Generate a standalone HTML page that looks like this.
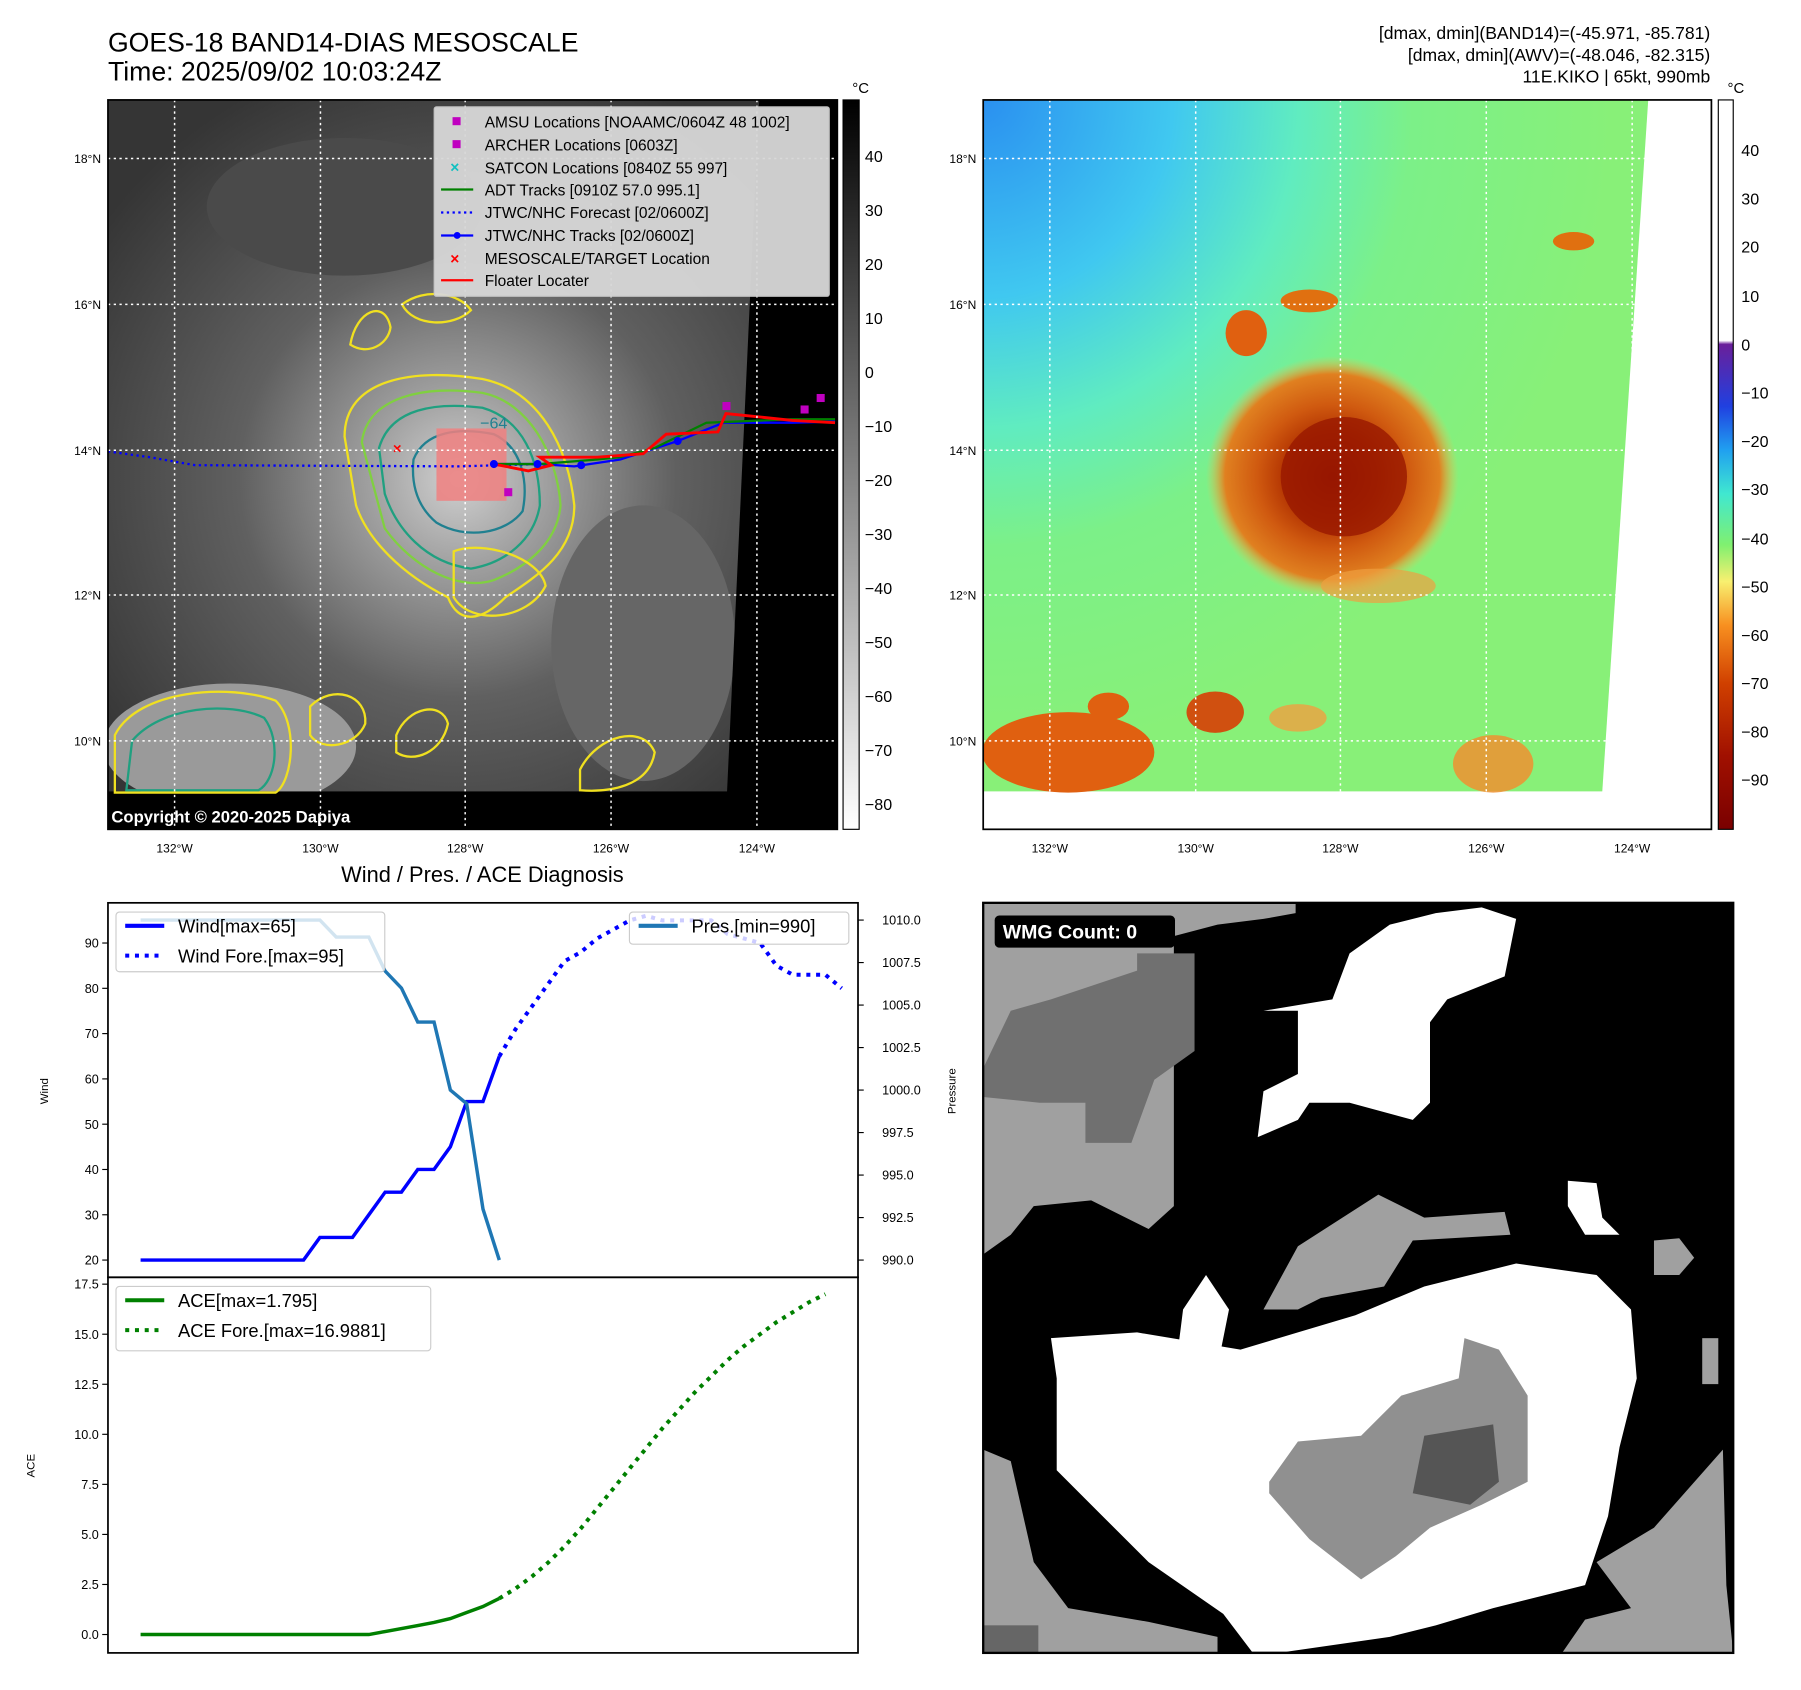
<!DOCTYPE html>
<html><head><meta charset="utf-8">
<style>
html,body{margin:0;padding:0;background:#fff;}
svg{display:block;font-family:"Liberation Sans","DejaVu Sans",sans-serif;}
</style></head>
<body>
<svg id="fig" width="1801" height="1690" viewBox="0 0 1568 1471.3" preserveAspectRatio="none" xmlns="http://www.w3.org/2000/svg">
<defs>
  <linearGradient id="cb1" x1="0" y1="0" x2="0" y2="1">
    <stop offset="0" stop-color="#000"/><stop offset="1" stop-color="#fff"/>
  </linearGradient>
  <linearGradient id="cb2" x1="0" y1="0" x2="0" y2="1">
    <stop offset="0" stop-color="#fff"/><stop offset="0.33" stop-color="#fff"/>
    <stop offset="0.335" stop-color="#6a1f9a"/>
    <stop offset="0.42" stop-color="#2040e0"/>
    <stop offset="0.48" stop-color="#20a0f0"/>
    <stop offset="0.54" stop-color="#40e8d0"/>
    <stop offset="0.61" stop-color="#80f070"/>
    <stop offset="0.66" stop-color="#f8f070"/>
    <stop offset="0.72" stop-color="#f89020"/>
    <stop offset="0.80" stop-color="#d04000"/>
    <stop offset="0.90" stop-color="#a01000"/>
    <stop offset="1" stop-color="#7a0000"/>
  </linearGradient>
  <radialGradient id="sat1" cx="0.48" cy="0.52" r="0.6">
    <stop offset="0" stop-color="#d0d0d0"/><stop offset="0.2" stop-color="#a0a0a0"/>
    <stop offset="0.5" stop-color="#606060"/><stop offset="1" stop-color="#353535"/>
  </radialGradient>
  <radialGradient id="bg2" cx="0" cy="0" r="0.95">
    <stop offset="0" stop-color="#2a90f0"/><stop offset="0.3" stop-color="#40c8f0"/>
    <stop offset="0.5" stop-color="#60ecc0"/><stop offset="0.68" stop-color="#7cf088"/>
    <stop offset="1" stop-color="#88f078"/>
  </radialGradient>
  <radialGradient id="storm" cx="0.5" cy="0.5" r="0.5">
    <stop offset="0" stop-color="#901000"/><stop offset="0.35" stop-color="#b03000"/>
    <stop offset="0.6" stop-color="#d05a10"/><stop offset="0.85" stop-color="#e08020"/>
    <stop offset="1" stop-color="#f0c050" stop-opacity="0"/>
  </radialGradient>
  <clipPath id="clipL"><rect x="94" y="87" width="635" height="635"/></clipPath>
  <clipPath id="clipR"><rect x="856" y="87" width="634" height="635"/></clipPath>
</defs>

<text x="94" y="45" font-size="23.2">GOES-18 BAND14-DIAS MESOSCALE</text>
<text x="94" y="70" font-size="23.2">Time: 2025/09/02 10:03:24Z</text>
<g font-size="15.3" text-anchor="end">
<text x="1489" y="34">[dmax, dmin](BAND14)=(-45.971, -85.781)</text>
<text x="1489" y="53">[dmax, dmin](AWV)=(-48.046, -82.315)</text>
<text x="1489" y="72">11E.KIKO | 65kt, 990mb</text>
</g>

<g clip-path="url(#clipL)">
  <rect x="94" y="87" width="635" height="635" fill="url(#sat1)"/>
  <ellipse cx="200" cy="650" rx="110" ry="55" fill="#9a9a9a"/>
  <ellipse cx="300" cy="180" rx="120" ry="60" fill="#4a4a4a"/>
  <ellipse cx="560" cy="560" rx="80" ry="120" fill="#666"/>
  <polygon points="661,87 729,87 729,722 633,722 633,689" fill="#000"/>
  <rect x="94" y="689" width="540" height="33" fill="#000"/>
  <g fill="none" stroke-width="2">
    <path d="M300,380 C300,330 360,320 420,330 C470,340 495,390 500,440 C500,480 470,500 440,520 C420,540 400,545 390,520 C350,500 320,470 310,440 Z" stroke="#f0e020"/>
    <path d="M315,385 C320,345 370,335 420,342 C460,350 485,395 488,440 C485,475 455,495 430,505 C400,515 360,495 335,460 Z" stroke="#80d040"/>
    <path d="M330,390 C340,355 380,350 420,355 C455,365 470,400 470,440 C465,470 440,490 410,495 C370,490 345,460 335,430 Z" stroke="#20a080"/>
    <path d="M360,400 C370,375 400,372 430,378 C455,390 460,420 455,445 C440,465 405,470 380,455 C362,440 358,420 360,400 Z" stroke="#208090"/>
    <path d="M305,300 C310,270 335,260 340,285 C338,300 320,310 305,300 Z" stroke="#f0e020"/>
    <path d="M350,265 C370,250 400,255 410,270 C395,285 360,285 350,265 Z" stroke="#f0e020"/>
    <path d="M100,640 C120,600 200,595 240,610 C260,630 255,680 240,690 L100,690 Z" stroke="#f0e020"/>
    <path d="M115,645 C140,615 200,610 230,625 C245,645 240,680 225,688 L110,688 Z" stroke="#20a080"/>
    <path d="M270,615 C290,595 320,605 318,630 C310,650 280,655 270,640 Z" stroke="#f0e020"/>
    <path d="M345,640 C355,615 385,610 390,630 C385,655 360,665 345,655 Z" stroke="#f0e020"/>
    <path d="M505,670 C520,640 560,630 570,655 C565,685 530,690 505,688 Z" stroke="#f0e020"/>
    <path d="M395,480 C420,470 470,485 475,510 C460,540 410,545 395,520 Z" stroke="#f0e020"/>
  </g>
  <text x="418" y="373" font-size="14" fill="#208090">−64</text>
  <rect x="380" y="373" width="61" height="63" fill="#f08080" opacity="0.85"/>
  <polyline points="94,393 130,398 170,405 400,406 470,404" fill="none" stroke="#0000ff" stroke-width="2" stroke-dasharray="2,3"/>
  <polyline points="430,404 470,404 500,406 540,400 590,384 630,368 690,368 727,367" fill="none" stroke="#0000ff" stroke-width="2"/>
  <polyline points="430,404 470,404 520,400 540,398 570,390 580,385 615,368 690,365 727,365" fill="none" stroke="#008000" stroke-width="2"/>
  <polyline points="430,404 460,410 480,405 470,398 520,398 560,395 580,378 625,376 632,360 690,366 727,368" fill="none" stroke="#ff0000" stroke-width="2.5"/>
  <g fill="#0000ff"><circle cx="430" cy="404" r="3.5"/><circle cx="468" cy="404" r="3.5"/><circle cx="506" cy="405" r="3.5"/><circle cx="590" cy="384" r="3.5"/></g>
  <g fill="#c000c0"><rect x="439" y="425" width="7" height="7"/><rect x="629" y="350" width="7" height="7"/><rect x="697" y="353" width="7" height="7"/><rect x="711" y="343" width="7" height="7"/></g>
  <text x="342" y="395" font-size="13" fill="#ff0000" font-weight="bold">×</text>
  <g stroke="#fff" stroke-width="1.3" stroke-dasharray="2,3">
    <line x1="152" y1="87" x2="152" y2="722"/><line x1="279" y1="87" x2="279" y2="722"/><line x1="405" y1="87" x2="405" y2="722"/><line x1="532" y1="87" x2="532" y2="722"/><line x1="659" y1="87" x2="659" y2="722"/>
    <line x1="94" y1="138" x2="729" y2="138"/><line x1="94" y1="265" x2="729" y2="265"/><line x1="94" y1="392" x2="729" y2="392"/><line x1="94" y1="518" x2="729" y2="518"/><line x1="94" y1="645" x2="729" y2="645"/>
  </g>
  <text x="97" y="716" font-size="14.5" font-weight="bold" fill="#fff">Copyright © 2020-2025 Dapiya</text>
</g>
<rect x="94" y="87" width="635" height="635" fill="none" stroke="#000" stroke-width="1.5"/>
<g font-size="13.5">
  <rect x="378" y="93" width="344" height="165" fill="#d8d8d8" stroke="#c8c8c8" opacity="0.95" rx="2"/>
  <rect x="394" y="102" width="7" height="7" fill="#c000c0"/><text x="422" y="111">AMSU Locations [NOAAMC/0604Z 48 1002]</text>
  <rect x="394" y="122" width="7" height="7" fill="#c000c0"/><text x="422" y="131">ARCHER Locations [0603Z]</text>
  <text x="392" y="150" fill="#10c0c0" font-weight="bold">×</text><text x="422" y="151">SATCON Locations [0840Z 55 997]</text>
  <line x1="384" y1="165" x2="412" y2="165" stroke="#008000" stroke-width="2"/><text x="422" y="170">ADT Tracks [0910Z 57.0 995.1]</text>
  <line x1="384" y1="185" x2="412" y2="185" stroke="#0000ff" stroke-width="2" stroke-dasharray="2,3"/><text x="422" y="190">JTWC/NHC Forecast [02/0600Z]</text>
  <line x1="384" y1="205" x2="412" y2="205" stroke="#0000ff" stroke-width="2"/><circle cx="398" cy="205" r="3" fill="#0000ff"/><text x="422" y="210">JTWC/NHC Tracks [02/0600Z]</text>
  <text x="392" y="230" fill="#ff0000" font-weight="bold">×</text><text x="422" y="230">MESOSCALE/TARGET Location</text>
  <line x1="384" y1="244" x2="412" y2="244" stroke="#ff0000" stroke-width="2"/><text x="422" y="249">Floater Locater</text>
</g>
<g font-size="10.5" text-anchor="middle">
  <text x="152" y="742">132°W</text><text x="279" y="742">130°W</text><text x="405" y="742">128°W</text><text x="532" y="742">126°W</text><text x="659" y="742">124°W</text>
</g>
<g font-size="10.5" text-anchor="end">
  <text x="88" y="142">18°N</text><text x="88" y="269">16°N</text><text x="88" y="396">14°N</text><text x="88" y="522">12°N</text><text x="88" y="649">10°N</text>
</g>
<rect x="734" y="87" width="14" height="635" fill="url(#cb1)" stroke="#000"/>
<text x="742" y="81" font-size="13">°C</text>
<g font-size="14">
  <text x="753" y="141">40</text><text x="753" y="188">30</text><text x="753" y="235">20</text><text x="753" y="282">10</text><text x="753" y="329">0</text>
  <text x="753" y="376">−10</text><text x="753" y="423">−20</text><text x="753" y="470">−30</text><text x="753" y="517">−40</text><text x="753" y="564">−50</text><text x="753" y="611">−60</text><text x="753" y="658">−70</text><text x="753" y="705">−80</text>
</g>

<g clip-path="url(#clipR)">
  <rect x="856" y="87" width="634" height="635" fill="#fff"/>
  <polygon points="856,87 1435,87 1395,689 856,689" fill="url(#bg2)"/>
  <ellipse cx="1160" cy="415" rx="110" ry="105" fill="url(#storm)"/>
  <ellipse cx="1170" cy="415" rx="55" ry="52" fill="#981800" opacity="0.8"/>
  <ellipse cx="1085" cy="290" rx="18" ry="20" fill="#e06010"/>
  <ellipse cx="1140" cy="262" rx="25" ry="10" fill="#e07010"/>
  <ellipse cx="1370" cy="210" rx="18" ry="8" fill="#e07010"/>
  <ellipse cx="930" cy="655" rx="75" ry="35" fill="#e06010"/>
  <ellipse cx="1058" cy="620" rx="25" ry="18" fill="#d05010"/>
  <ellipse cx="965" cy="615" rx="18" ry="12" fill="#e06010"/>
  <ellipse cx="1300" cy="665" rx="35" ry="25" fill="#f09030" opacity="0.85"/>
  <ellipse cx="1130" cy="625" rx="25" ry="12" fill="#f0a040" opacity="0.8"/>
  <ellipse cx="1200" cy="510" rx="50" ry="15" fill="#f0a040" opacity="0.7"/>
  <g stroke="#fff" stroke-width="1.3" stroke-dasharray="2,3">
    <line x1="914" y1="87" x2="914" y2="722"/><line x1="1041" y1="87" x2="1041" y2="722"/><line x1="1167" y1="87" x2="1167" y2="722"/><line x1="1294" y1="87" x2="1294" y2="722"/><line x1="1421" y1="87" x2="1421" y2="722"/>
    <line x1="856" y1="138" x2="1490" y2="138"/><line x1="856" y1="265" x2="1490" y2="265"/><line x1="856" y1="392" x2="1490" y2="392"/><line x1="856" y1="518" x2="1490" y2="518"/><line x1="856" y1="645" x2="1490" y2="645"/>
  </g>
</g>
<rect x="856" y="87" width="634" height="635" fill="none" stroke="#000" stroke-width="1.5"/>
<g font-size="10.5" text-anchor="middle">
  <text x="914" y="742">132°W</text><text x="1041" y="742">130°W</text><text x="1167" y="742">128°W</text><text x="1294" y="742">126°W</text><text x="1421" y="742">124°W</text>
</g>
<g font-size="10.5" text-anchor="end">
  <text x="850" y="142">18°N</text><text x="850" y="269">16°N</text><text x="850" y="396">14°N</text><text x="850" y="522">12°N</text><text x="850" y="649">10°N</text>
</g>
<rect x="1496" y="87" width="13" height="635" fill="url(#cb2)" stroke="#000"/>
<text x="1504" y="81" font-size="13">°C</text>
<g font-size="14">
  <text x="1516" y="136">40</text><text x="1516" y="178">30</text><text x="1516" y="220">20</text><text x="1516" y="263">10</text><text x="1516" y="305">0</text>
  <text x="1516" y="347">−10</text><text x="1516" y="389">−20</text><text x="1516" y="431">−30</text><text x="1516" y="474">−40</text><text x="1516" y="516">−50</text><text x="1516" y="558">−60</text><text x="1516" y="600">−70</text><text x="1516" y="642">−80</text><text x="1516" y="684">−90</text>
</g>

<g>
  <rect x="856" y="786" width="653" height="653" fill="#000"/>
  <polygon points="856,786 1128,786 1128,795 1100,800 1060,805 1022,815 1022,1050 1000,1070 950,1045 900,1050 880,1075 856,1092" fill="#a0a0a0"/>
  <polygon points="990,830 1040,830 1040,915 1005,940 985,995 945,995 945,960 905,960 856,955 856,930 880,880 915,870 990,845" fill="#707070"/>
  <polygon points="1290,790 1320,800 1310,850 1260,870 1245,890 1245,960 1230,975 1175,960 1140,960 1130,975 1095,990 1100,950 1130,935 1130,880 1100,880 1160,870 1175,830 1210,805 1250,795" fill="#fff"/>
  <polygon points="1130,1085 1200,1040 1240,1060 1310,1055 1315,1075 1230,1080 1205,1120 1150,1130 1130,1140 1100,1140" fill="#a0a0a0"/>
  <polygon points="1030,1140 1050,1110 1070,1140 1060,1190 1025,1180" fill="#fff"/>
  <polygon points="1365,1028 1390,1030 1395,1060 1410,1075 1380,1075 1365,1050" fill="#fff"/>
  <polygon points="915,1165 990,1160 1080,1175 1130,1160 1180,1145 1240,1120 1320,1100 1390,1110 1420,1140 1425,1200 1410,1260 1400,1320 1380,1380 1300,1400 1250,1415 1210,1425 1120,1438 1090,1438 1065,1405 1000,1360 960,1320 920,1280 920,1200" fill="#fff"/>
  <polygon points="1105,1290 1130,1255 1185,1250 1220,1215 1270,1200 1275,1165 1305,1175 1330,1215 1330,1290 1290,1310 1245,1330 1215,1355 1185,1375 1140,1340 1105,1300" fill="#909090"/>
  <polygon points="1240,1250 1300,1240 1305,1290 1280,1310 1230,1300" fill="#555"/>
  <polygon points="1390,1360 1440,1330 1500,1262 1503,1380 1509,1439 1360,1439 1380,1410 1420,1400" fill="#a0a0a0"/>
  <polygon points="856,1262 880,1272 900,1360 930,1400 1000,1412 1060,1425 1060,1439 856,1439" fill="#a0a0a0"/>
  <rect x="856" y="1415" width="48" height="24" fill="#666"/>
  <polygon points="1440,1080 1462,1078 1475,1095 1462,1110 1440,1110" fill="#a0a0a0"/>
  <rect x="1482" y="1165" width="14" height="40" fill="#a0a0a0"/>
  <rect x="866" y="797" width="157" height="28" rx="4" fill="#000"/>
  <text x="873" y="817" font-size="17" font-weight="bold" fill="#fff">WMG Count: 0</text>
  <rect x="856" y="786" width="653" height="653" fill="none" stroke="#000" stroke-width="2"/>
</g>

<text x="420" y="768" font-size="19" text-anchor="middle">Wind / Pres. / ACE Diagnosis</text>
<g id="charts"></g>
</svg>

<script>
const windPast = [20,20,20,20,20,20,20,20,20,20,20,25,25,25,30,35,35,40,40,45,55,55,65];
const windFore = [65,71,76,81,86,88,91,93,95,96,95,95,95,95,92,91,90,85,83,83,83,80];
const presPast = [1010,1010,1010,1010,1010,1010,1010,1010,1010,1010,1010,1010,1009,1009,1009,1007,1006,1004,1004,1000,999.2,993,990];
const acePast = [0,0,0,0,0,0,0,0,0,0,0,0,0,0,0,0.15,0.3,0.45,0.6,0.8,1.1,1.4,1.8];
const aceFore = [1.8,2.3,2.9,3.6,4.4,5.3,6.3,7.3,8.3,9.3,10.3,11.2,12.1,12.9,13.7,14.4,15.0,15.6,16.1,16.6,17.0];
const windTicks = [20,30,40,50,60,70,80,90];
const presTicks = [990.0,992.5,995.0,997.5,1000.0,1002.5,1005.0,1007.5,1010.0];
const aceTicks = [0.0,2.5,5.0,7.5,10.0,12.5,15.0,17.5];

const NS = "http://www.w3.org/2000/svg";
const root = document.getElementById('charts');
function xS(i){ return 94 + (i + 2) * (653/46); }
function yW(v){ return 1097 - (v - 20) * 3.943; }
function yP(p){ return 1097 - (p - 990) * 14.8; }
function yA(a){ return 1423 - a * 17.43; }
function mk(tag, attrs, parent){
  const e = document.createElementNS(NS, tag);
  for (const k in attrs) e.setAttribute(k, attrs[k]);
  (parent || root).appendChild(e);
  return e;
}
function pts(arr, off, ys){ return arr.map((v,i)=>xS(i+off).toFixed(1)+','+ys(v).toFixed(1)).join(' '); }

let f1 = mk('rect',{x:94,y:786,width:653,height:326,fill:'none',stroke:'#000','stroke-width':1.5});


let f2 = mk('rect',{x:94,y:1112,width:653,height:327,fill:'none',stroke:'#000','stroke-width':1.5});



windTicks.forEach(t=>{
  const y = yW(t);
  mk('line',{x1:89,y1:y,x2:94,y2:y,stroke:'#000'});
  const tx = mk('text',{x:86,y:y+4,'font-size':11,'text-anchor':'end'});
  tx.textContent = t;
  
  
});
presTicks.forEach(t=>{
  const y = yP(t);
  mk('line',{x1:747,y1:y,x2:752,y2:y,stroke:'#000'});
  const tx = mk('text',{x:768,y:y+4,'font-size':11});
  tx.textContent = t.toFixed(1);
  
  
});
aceTicks.forEach(t=>{
  const y = yA(t);
  mk('line',{x1:89,y1:y,x2:94,y2:y,stroke:'#000'});
  const tx = mk('text',{x:86,y:y+4,'font-size':11,'text-anchor':'end'});
  tx.textContent = t.toFixed(1);
  
  
});
let l1 = mk('text',{x:0,y:0,'font-size':10,'text-anchor':'middle',transform:'translate(42,950) rotate(-90)'}); l1.textContent='Wind';


let l2 = mk('text',{x:0,y:0,'font-size':10,'text-anchor':'middle',transform:'translate(832,950) rotate(-90)'}); l2.textContent='Pressure';


let l3 = mk('text',{x:0,y:0,'font-size':10,'text-anchor':'middle',transform:'translate(30,1276) rotate(-90)'}); l3.textContent='ACE';



let s1 = mk('polyline',{points:pts(windPast,0,yW),fill:'none',stroke:'#0000ff','stroke-width':3});


let s2 = mk('polyline',{points:pts(windFore,22,yW),fill:'none',stroke:'#0000ff','stroke-width':3.5,'stroke-dasharray':'3.5,5'});


let s3 = mk('polyline',{points:pts(presPast,0,yP),fill:'none',stroke:'#1f77b4','stroke-width':3});


let s4 = mk('polyline',{points:pts(acePast,0,yA),fill:'none',stroke:'#008000','stroke-width':3});


let s5 = mk('polyline',{points:pts(aceFore,22,yA),fill:'none',stroke:'#008000','stroke-width':3.5,'stroke-dasharray':'3.5,5'});



function legend(x,y,w,h,items,name){
  const g = mk('g',{});
  
  
  mk('rect',{x:x,y:y,width:w,height:h,fill:'#fff','fill-opacity':0.8,stroke:'#ccc',rx:3},g);
  items.forEach((it,k)=>{
    const yy = y + 12 + k*26;
    const ln = mk('line',{x1:x+8,y1:yy,x2:x+42,y2:yy,stroke:it[1],'stroke-width':3.5},g);
    if (it[2]) ln.setAttribute('stroke-dasharray','3.5,5');
    const t = mk('text',{x:x+54,y:yy+6,'font-size':16},g);
    t.textContent = it[0];
  });
}
legend(101,794,234,52,[['Wind[max=65]','#0000ff',false],['Wind Fore.[max=95]','#0000ff',true]],'wind-legend');
legend(548,794,191,28,[['Pres.[min=990]','#1f77b4',false]],'pressure-legend');
legend(101,1120,274,56,[['ACE[max=1.795]','#008000',false],['ACE Fore.[max=16.9881]','#008000',true]],'ace-legend');
</script>
</body></html>
